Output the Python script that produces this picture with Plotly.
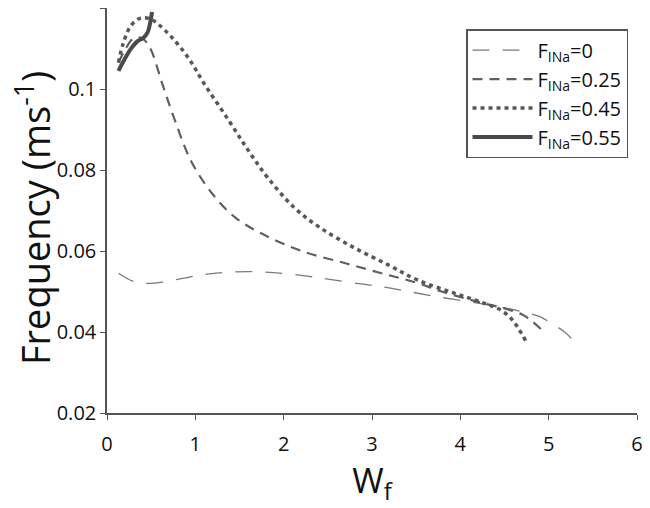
import plotly.graph_objects as go

# F_INa = 0
x0 = [0.13, 0.3, 0.47, 0.8, 1.1, 1.41, 1.79, 2.2, 2.52, 2.9, 3.16, 3.41, 3.74, 4.12, 4.45, 4.74, 4.9, 5.04, 5.18, 5.32]
y0 = [0.0545, 0.0525, 0.0520, 0.0530, 0.0542, 0.0548, 0.0548, 0.0540, 0.0530, 0.0518, 0.0510, 0.0500, 0.0487, 0.0474, 0.0462, 0.0448, 0.0438, 0.0420, 0.0400, 0.0370]

# F_INa = 0.25
x25 = [0.13, 0.2, 0.3, 0.4, 0.49, 0.63, 0.77, 0.95, 1.19, 1.45, 1.75, 2.19, 2.71, 3.16, 3.5, 3.79, 4.19, 4.5, 4.7, 4.82, 4.97]
y25 = [0.1065, 0.1095, 0.1125, 0.1125, 0.1100, 0.1010, 0.0922, 0.0823, 0.0742, 0.0683, 0.0643, 0.0601, 0.0569, 0.0542, 0.0522, 0.0500, 0.0475, 0.0458, 0.0443, 0.0425, 0.0395]

# F_INa = 0.45
x45 = [0.13, 0.18, 0.27, 0.38, 0.49, 0.58, 0.74, 0.93, 1.1, 1.38, 1.6, 1.82, 2.12, 2.41, 2.79, 3.19, 3.52, 3.93, 4.27, 4.46, 4.58, 4.66, 4.74]
y45 = [0.1065, 0.1110, 0.1156, 0.1175, 0.1173, 0.1160, 0.1126, 0.1074, 0.1013, 0.0922, 0.0848, 0.0781, 0.0707, 0.0658, 0.0609, 0.0565, 0.0528, 0.0496, 0.0471, 0.0454, 0.0432, 0.0408, 0.0378]

# F_INa = 0.55
x55 = [0.13, 0.19, 0.27, 0.34, 0.41, 0.46, 0.49, 0.51]
y55 = [0.1045, 0.1070, 0.1099, 0.1117, 0.1126, 0.1140, 0.1165, 0.1190]

x_ticks = [0, 1, 2, 3, 4, 5, 6]
y_ticks = [0.02, 0.04, 0.06, 0.08, 0.1, 0.12]
y_tick_text = ["0.02", "0.04", "0.06", "0.08", "0.1", "0.12"]

L, R = 99, 21
plot_w = 650 - L - R

fig = go.Figure()
fig.add_trace(go.Scatter(x=x0, y=y0, mode="lines", line_shape="spline",
                         line=dict(color="#7a7a7a", width=1.3, dash="17px,13px"),
                         name="F<sub>INa</sub>=0", legendgroup="a"))
fig.add_trace(go.Scatter(x=x25, y=y25, mode="lines", line_shape="spline",
                         line=dict(color="#606060", width=2.2, dash="10px,7px"),
                         name="F<sub>INa</sub>=0.25", legendgroup="b"))
fig.add_trace(go.Scatter(x=x45, y=y45, mode="lines", line_shape="spline",
                         line=dict(color="#585858", width=3.5, dash="4px,4px"),
                         name="F<sub>INa</sub>=0.45", legendgroup="c"))
fig.add_trace(go.Scatter(x=x55, y=y55, mode="lines", line_shape="spline",
                         line=dict(color="#4a4a4a", width=4),
                         name="F<sub>INa</sub>=0.55", legendgroup="d"))

fig.update_layout(
    width=650, height=508,
    margin=dict(l=L, r=R, t=0, b=103, autoexpand=False),
    paper_bgcolor="white", plot_bgcolor="white",
    font=dict(family="Open Sans", color="#111", size=20),
    legend=dict(x=(466 - 107) / plot_w, y=0.948, xanchor="left", yanchor="top",
                bordercolor="#555", borderwidth=1.5, bgcolor="white",
                font=dict(size=20), tracegroupgap=6, traceorder="normal",
                itemwidth=60),
    showlegend=True,
    annotations=[dict(text="Frequency (ms<sup>-1</sup>)", textangle=-90,
                      xref="paper", yref="paper", x=-(L + 4) / plot_w, y=0.48,
                      xanchor="left", yanchor="middle", showarrow=False,
                      font=dict(size=38, color="#111"))],
)
fig.update_xaxes(range=[0, 6], tickvals=x_ticks, showgrid=False, zeroline=False,
                 showline=True, linecolor="#555", linewidth=1.5, automargin=False,
                 ticks="outside", ticklen=5, tickcolor="#555", ticklabelstandoff=7,
                 title=dict(text="W<sub>f</sub>", font=dict(size=34), standoff=8))
fig.update_yaxes(range=[0.02, 0.12], tickvals=y_ticks, ticktext=y_tick_text,
                 showgrid=False, zeroline=False, automargin=False,
                 showline=True, linecolor="#555", linewidth=1.5,
                 ticks="outside", ticklen=5, tickcolor="#555")

fig.write_html("out.html")
